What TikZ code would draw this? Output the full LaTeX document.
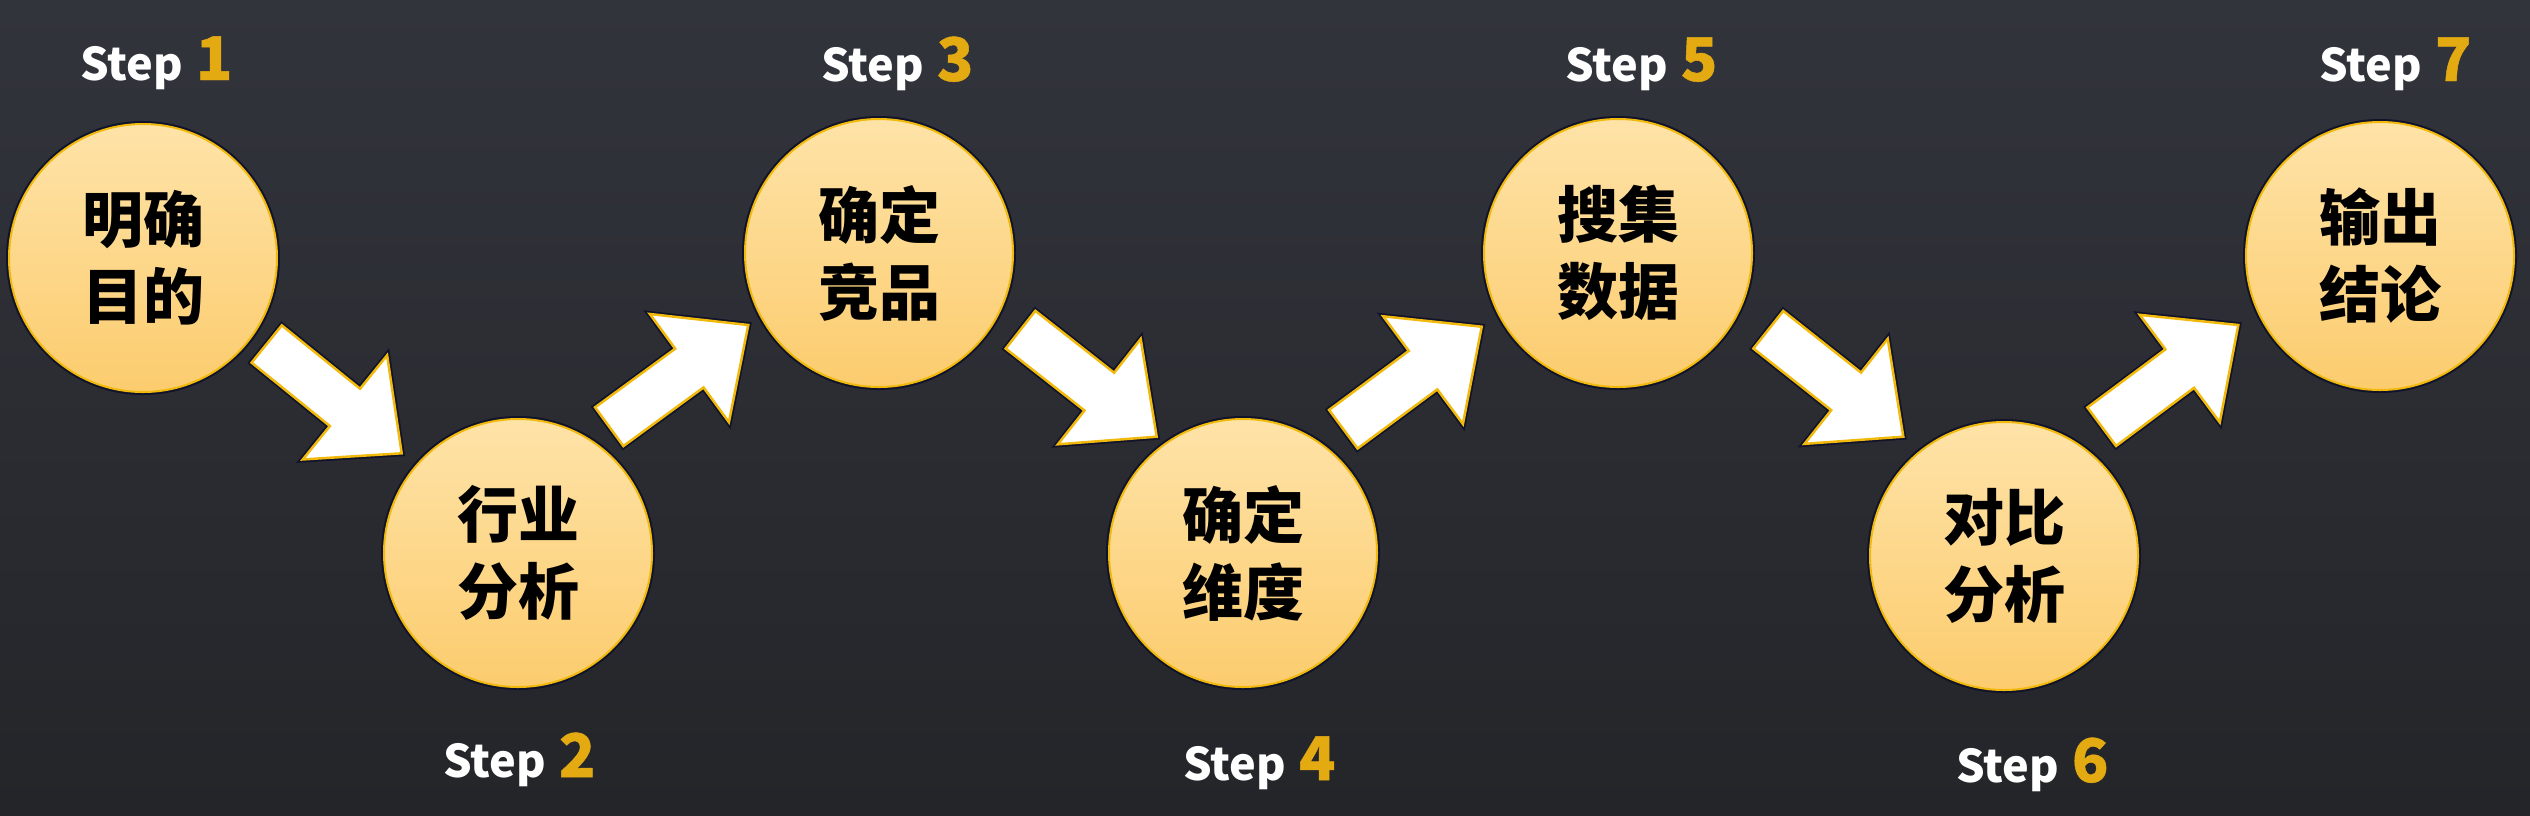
\documentclass[tikz,border=0pt]{standalone}
\usepackage{fontspec}
\newfontfamily\cjk{Noto Sans CJK SC}
\newfontfamily\cjknum[FakeBold=0.8]{Noto Sans CJK SC}
\usetikzlibrary{calc}
\definecolor{bgtop}{HTML}{32343C}
\definecolor{bgbot}{HTML}{242529}
\definecolor{circtop}{HTML}{FEE3A8}
\definecolor{circbot}{HTML}{FCCC6E}
\definecolor{goldline}{HTML}{F0B90B}
\definecolor{darkedge}{HTML}{10132A}
\definecolor{numgold}{HTML}{E3AA12}
\tikzset{
  stepcircle/.style={circle, minimum size=268pt, inner sep=0pt,
    top color=circtop, bottom color=circbot, draw=goldline, line width=2pt,
    align=center, text=black, font=\cjk\bfseries\fontsize{61}{77}\selectfont,
    preaction={draw=darkedge, line width=6pt}},
  steplabel/.style={anchor=base west, inner sep=0pt, text=white,
    font=\cjk\bfseries\fontsize{45}{54}\selectfont},
  blockarrow/.style={fill=white, draw=goldline, line width=2.5pt, line join=miter,
    preaction={draw=darkedge, line width=6pt, line join=miter}},
}
\newcommand\stepnum[1]{\hspace{13pt}{\color{numgold}\cjknum\fontsize{60}{70}\selectfont #1}}
\newcommand\blockarr[2]{%
  \coordinate (hb) at ($(#2)!73pt!(#1)$);
  \draw[blockarrow] ($(#1)!24pt!90:(#2)$) -- ($(hb)!24pt!90:(#2)$)
    -- ($(hb)!67pt!90:(#2)$) -- (#2) -- ($(hb)!67pt!-90:(#2)$)
    -- ($(hb)!24pt!-90:(#2)$) -- ($(#1)!24pt!-90:(#2)$) -- cycle;
}
\begin{document}
\begin{tikzpicture}[x=1pt, y=-1pt]
\useasboundingbox (0,0) rectangle (2530,815);
\fill[top color=bgtop, bottom color=bgbot] (0,0) rectangle (2530,815);

% circles
\node[stepcircle] (c1) at (143,258) {明确\\目的};
\node[stepcircle] (c2) at (518,553) {行业\\分析};
\node[stepcircle] (c3) at (879,253) {确定\\竞品};
\node[stepcircle] (c4) at (1243,553) {确定\\维度};
\node[stepcircle] (c5) at (1618,253) {搜集\\数据};
\node[stepcircle] (c6) at (2004,556) {对比\\分析};
\node[stepcircle] (c7) at (2380,256) {输出\\结论};

% step labels
\node[steplabel] (s1) at (80,80) {Step\stepnum{1}};
\node[steplabel] (s2) at (443,777) {Step\stepnum{2}};
\node[steplabel] (s3) at (821,81) {Step\stepnum{3}};
\node[steplabel] (s4) at (1183,780) {Step\stepnum{4}};
\node[steplabel] (s5) at (1565,81) {Step\stepnum{5}};
\node[steplabel] (s6) at (1956,782) {Step\stepnum{6}};
\node[steplabel] (s7) at (2319,81) {Step\stepnum{7}};

% arrow end points
\coordinate (a1t) at (266.7,344);  \coordinate (a1h) at (401.7,453.3);
\coordinate (a2t) at (609.2,426.7); \coordinate (a2h) at (748.3,325);
\coordinate (a3t) at (1020.5,329.7); \coordinate (a3h) at (1156.7,436.7);
\coordinate (a4t) at (1343.3,429.2); \coordinate (a4h) at (1481.7,326.7);
\coordinate (a5t) at (1768.3,329.7); \coordinate (a5h) at (1903.3,436.7);
\coordinate (a6t) at (2101.7,426.7); \coordinate (a6h) at (2238.3,325);

\blockarr{a1t}{a1h}
\blockarr{a2t}{a2h}
\blockarr{a3t}{a3h}
\blockarr{a4t}{a4h}
\blockarr{a5t}{a5h}
\blockarr{a6t}{a6h}
\end{tikzpicture}
\end{document}
